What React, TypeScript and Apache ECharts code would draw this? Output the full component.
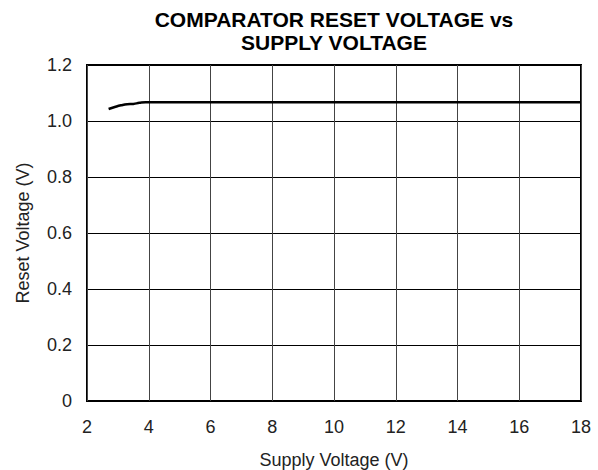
import React, { useEffect, useRef } from "react";
import * as echarts from "echarts";

const titleLines = ["COMPARATOR RESET VOLTAGE vs", "SUPPLY VOLTAGE"];
const xName = "Supply Voltage (V)";
const yName = "Reset Voltage (V)";
const supplyVoltage = [2.7, 2.9, 3.1, 3.3, 3.5, 3.7, 3.9, 5, 8, 12, 16, 18];
const resetVoltage = [1.043, 1.05, 1.056, 1.06, 1.061, 1.065, 1.067, 1.067, 1.067, 1.067, 1.067, 1.067];

export default function App() {
  const ref = useRef<HTMLDivElement>(null);
  useEffect(() => {
    if (!ref.current) return;
    const chart = echarts.init(ref.current, null, { renderer: "svg" });
    const font = "Liberation Sans, Arial, sans-serif";
    chart.setOption({
      animation: false,
      backgroundColor: "#fff",
      title: {
        text: titleLines.join("\n"),
        left: 334,
        top: 8,
        padding: 0,
        textAlign: "center",
        textStyle: { fontFamily: font, fontSize: 21, fontWeight: "bold", color: "#000", lineHeight: 23 },
      },
      grid: {
        left: 87,
        right: 17,
        top: 65,
        bottom: 69,
        outerBoundsMode: "none",
        containLabel: false,
        show: true,
        borderColor: "#000",
        borderWidth: 2,
        backgroundColor: "transparent",
      },
      xAxis: {
        type: "value",
        min: 2,
        max: 18,
        interval: 2,
        name: xName,
        nameLocation: "middle",
        nameGap: 50,
        nameTextStyle: { fontFamily: font, fontSize: 18, color: "#222", lineHeight: 18 },
        axisLine: { show: false },
        axisTick: { show: false },
        axisLabel: { fontFamily: font, fontSize: 18, color: "#222", margin: 17 },
        splitLine: { show: true, lineStyle: { color: "#444", width: 1 } },
      },
      yAxis: {
        type: "value",
        min: 0,
        max: 1.2,
        interval: 0.2,
        name: yName,
        nameLocation: "middle",
        nameGap: 55,
        nameTextStyle: { fontFamily: font, fontSize: 18, color: "#222" },
        axisLine: { show: false },
        axisTick: { show: false },
        axisLabel: {
          fontFamily: font,
          fontSize: 18,
          color: "#222",
          margin: 15,
          formatter: (v: number) => (v === 0 ? "0" : v.toFixed(1)),
        },
        splitLine: { show: true, lineStyle: { color: "#000", width: 1 } },
      },
      series: [
        {
          type: "line",
          data: supplyVoltage.map((x, i) => [x, resetVoltage[i]]),
          smooth: true,
          showSymbol: false,
          lineStyle: { color: "#000", width: 2.5 },
        },
      ],
    });
    return () => chart.dispose();
  }, []);
  return (
    <div
      ref={ref}
      style={{ position: "fixed", left: 0, top: 0, width: 598, height: 470 }}
    />
  );
}
